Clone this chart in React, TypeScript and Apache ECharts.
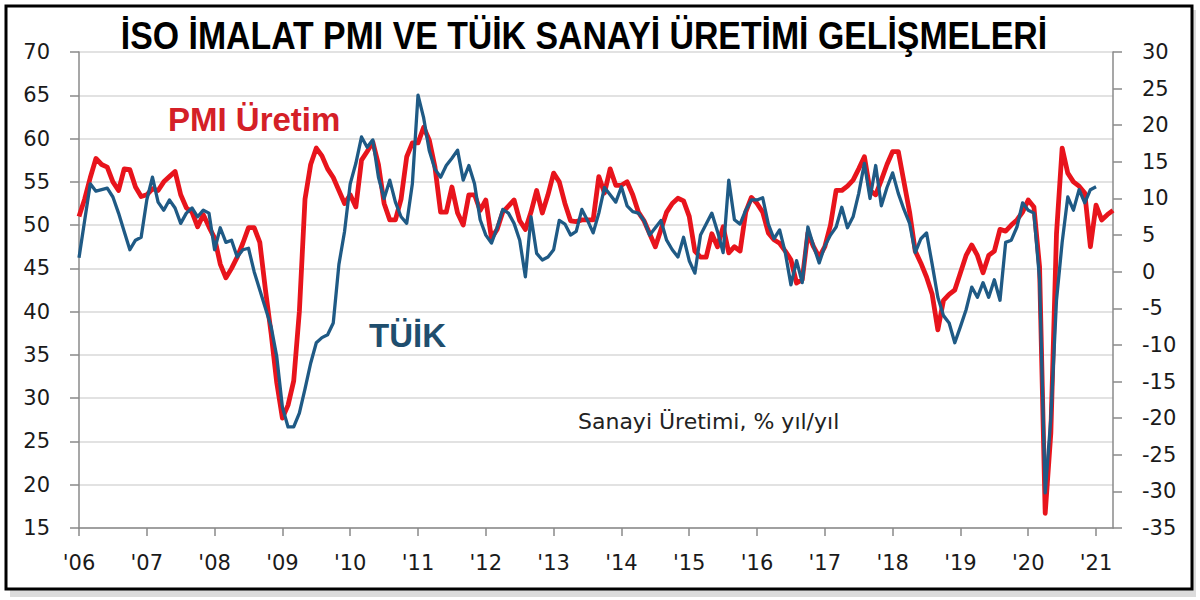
import { useEffect, useRef } from "react";
import * as echarts from "echarts";

const startYear = 2006;
const monthCount = 184;
const yearLabels = ["'06", "'07", "'08", "'09", "'10", "'11", "'12", "'13", "'14", "'15", "'16", "'17", "'18", "'19", "'20", "'21"];

const titleText = "İSO İMALAT PMI VE TÜİK SANAYİ ÜRETİMİ GELİŞMELERİ";
const pmiName = "PMI Üretim";
const tuikName = "TÜİK";
const tuikNote = "Sanayi Üretimi, % yıl/yıl";

// ISO PMI output index (left axis)
const pmiValues: number[] = [
  51, 53, 55.5, 57.7, 57, 56.7, 55, 54, 56.5, 56.4, 54.4, 53.3,
  53.5, 54.2, 54, 55, 55.6, 56.2, 53.5, 52, 51.5, 49.8, 51.2, 49.8,
  48.5, 45.5, 43.9, 45, 46.3, 47.9, 49.7, 49.7, 48, 42.5, 37.5, 31.8,
  27.7, 29.2, 32, 40, 53, 57, 58.9, 58, 56.5, 55.5, 54, 52.5,
  53.5, 52.1, 57.5, 58.5, 59.6, 57, 52.5, 50.6, 50.6, 53, 57.9, 59.5,
  59.5, 61.3, 59.8, 56.7, 51.5, 51.5, 54.4, 51.4, 50, 53.5, 53.5, 51.7,
  52.9, 48.5, 49.5, 51.5, 52.2, 52.9, 50.5, 49.5, 51.5, 54, 51.4, 53.5,
  56, 55, 52.5, 50.5, 50.4, 50.6, 50.6, 50.6, 55.6, 53.7, 56.5, 54.6,
  54.6, 55, 53.5, 51.5, 50.5, 49, 47.5, 49.5, 51.5, 52.5, 53.1, 52.8,
  51, 47, 46.3, 46.3, 49, 47.5, 49.8, 46.8, 47.5, 47, 51.5, 53.2,
  52.5, 51.5, 49.1, 48.3, 47.9, 47, 46, 43.3, 43.7, 49.1, 47.5, 46.3,
  47.5, 50, 54, 54, 54.5, 55.2, 56.5, 57.9, 54, 53.5, 55.2, 57,
  58.5, 58.5, 55, 51.5, 47, 45.6, 44, 42, 37.9, 41.3, 42, 42.5,
  44.5, 46.5, 47.7, 46.5, 44.5, 46.5, 47, 49.5, 49.3, 50, 50.6, 51.5,
  52.9, 52.1, 45.2, 16.7, 26, 49, 58.9, 56, 55, 54.5, 53.7, 47.5,
  52.3, 50.6, 51.2, 51.7,
];

// TÜİK industrial production, % y/y (right axis)
const tuikValues: (number | null)[] = [
  1.9, 7, 12, 11, 11.2, 11.4, 10.2, 8, 5.5, 3, 4.3, 4.7,
  9.8, 12.9, 9.5, 8.4, 9.8, 8.7, 6.6, 8, 8.7, 7.5, 8.4, 8,
  3, 6, 4, 4.3, 2, 3, 3.2, 0, -2.5, -5, -7.5, -11.6,
  -18.5, -21.2, -21.2, -19.3, -16, -12.5, -9.7, -9, -8.6, -7, 1, 5.5,
  12, 14.8, 18.4, 17, 18, 12.9, 10, 12.5, 9.5, 7.5, 6.6, 12,
  24.1, 21, 16.5, 14, 12.9, 14.5, 15.5, 16.6, 12.5, 14.5, 12, 7.1,
  5, 3.9, 6, 8.5, 8, 6.6, 4.3, -0.7, 7.5, 2.5, 1.6, 2,
  3, 7, 6.5, 5, 5.5, 8.5, 7, 5.3, 8, 11.5, 10.5, 9.5,
  11.6, 9, 8.2, 8, 7, 5, 6, 7, 4.3, 3, 2, 4.7,
  1.5, -0.2, 5, 6.5, 8, 5.5, 2.6, 12.5, 7.1, 6.5, 8.4, 9.8,
  9.8, 10.1, 6.5, 4.5, 5.7, 2.6, -1.8, 1.5, -1.5, 6.1, 3.5, 1.2,
  3.5, 5, 6.1, 8.8, 6, 7.5, 10.7, 14.8, 10, 14.5, 9, 11.5,
  13.5, 10.7, 8.5, 6.6, 2.6, 4.5, 5.3, 1, -3.5, -6, -7, -9.7,
  -7.5, -5.2, -2.1, -3.5, -1.5, -3.5, -1.1, -3.9, 4, 4.3, 6.1, 9.4,
  8.4, 8, -1, -30.2, -20, -3.9, 4, 10.2, 8.4, 11.2, 9.4, 11.2,
  11.6, null, null, null,
];

const months: string[] = [];
for (let i = 0; i < monthCount; i++) {
  const y = startYear + Math.floor(i / 12);
  const m = (i % 12) + 1;
  months.push(`${y}-${m < 10 ? "0" + m : m}`);
}

const axisFont = "DejaVu Sans";
const axisColor = "#8a8a8a";

export default function App() {
  const ref = useRef<HTMLDivElement>(null);
  useEffect(() => {
    document.body.style.margin = "0";
    if (!ref.current) return;
    const chart = echarts.init(ref.current, null, { renderer: "svg" });
    chart.setOption({
      animation: false,
      backgroundColor: "#ffffff",
      grid: { left: 79, right: 87, top: 52, bottom: 72, containLabel: false },
      graphic: [
        { type: "rect", z: -10, shape: { x: 10, y: 10, width: 1186, height: 587 }, style: { fill: "#dcdcdc" }, silent: true },
        { type: "rect", z: -9, shape: { x: 6, y: 6, width: 1186, height: 583 }, style: { fill: "#ffffff", stroke: "#000000", lineWidth: 3 }, silent: true },
        {
          type: "text", x: 584, y: 36, z: 10, scaleX: 0.89,
          style: { text: titleText, fontSize: 38, fontWeight: "bold", fontFamily: "Liberation Sans", fill: "#000", align: "center", verticalAlign: "middle" },
        },
        {
          type: "text", x: 168, y: 119, z: 10,
          style: { text: pmiName, fontSize: 33, fontWeight: "bold", fontFamily: "Liberation Sans", fill: "#d42027", align: "left", verticalAlign: "middle" },
        },
        {
          type: "text", x: 369, y: 335, z: 10,
          style: { text: tuikName, fontSize: 33, fontWeight: "bold", fontFamily: "Liberation Sans", fill: "#1f4e6e", align: "left", verticalAlign: "middle" },
        },
        {
          type: "text", x: 578, y: 421, z: 10,
          style: { text: tuikNote, fontSize: 22, fontFamily: "DejaVu Sans", fill: "#222", align: "left", verticalAlign: "middle" },
        },
      ],
      xAxis: {
        type: "category",
        data: months,
        boundaryGap: false,
        axisLine: { show: true, onZero: false, lineStyle: { color: axisColor, width: 1.5 } },
        axisTick: { show: true, interval: (i: number) => i % 12 === 0, length: 8, lineStyle: { color: axisColor, width: 1.5 } },
        axisLabel: {
          interval: (i: number) => i % 12 === 0,
          formatter: (v: string) => yearLabels[parseInt(v.slice(0, 4), 10) - startYear],
          fontSize: 21, fontFamily: axisFont, color: "#1a1a1a", margin: 24,
        },
        splitLine: { show: false },
      },
      yAxis: [
        {
          type: "value", position: "left", min: 15, max: 70, interval: 5,
          axisLine: { show: true, lineStyle: { color: axisColor, width: 1.5 } },
          axisTick: { show: true, length: 9, lineStyle: { color: axisColor, width: 1.5 } },
          axisLabel: { fontSize: 21, fontFamily: axisFont, color: "#1a1a1a", margin: 29 },
          splitLine: { show: true, lineStyle: { color: "#d9d9d9", width: 1.5 } },
        },
        {
          type: "value", position: "right", min: -35, max: 30, interval: 5,
          axisLine: { show: true, lineStyle: { color: axisColor, width: 1.5 } },
          axisTick: { show: true, length: 9, lineStyle: { color: axisColor, width: 1.5 } },
          axisLabel: { fontSize: 21, fontFamily: axisFont, color: "#1a1a1a", margin: 29 },
          splitLine: { show: false },
        },
      ],
      series: [
        {
          name: pmiName, type: "line", yAxisIndex: 0, data: pmiValues, showSymbol: false, z: 2,
          lineStyle: { color: "#e8141c", width: 4.8, join: "round" }, itemStyle: { color: "#e8141c" },
        },
        {
          name: tuikName, type: "line", yAxisIndex: 1, data: tuikValues, showSymbol: false, z: 3, connectNulls: false,
          lineStyle: { color: "#1f5a85", width: 3.3, join: "round" }, itemStyle: { color: "#1f5a85" },
        },
      ],
    });
    return () => chart.dispose();
  }, []);
  return <div ref={ref} style={{ width: 1200, height: 600 }} />;
}
